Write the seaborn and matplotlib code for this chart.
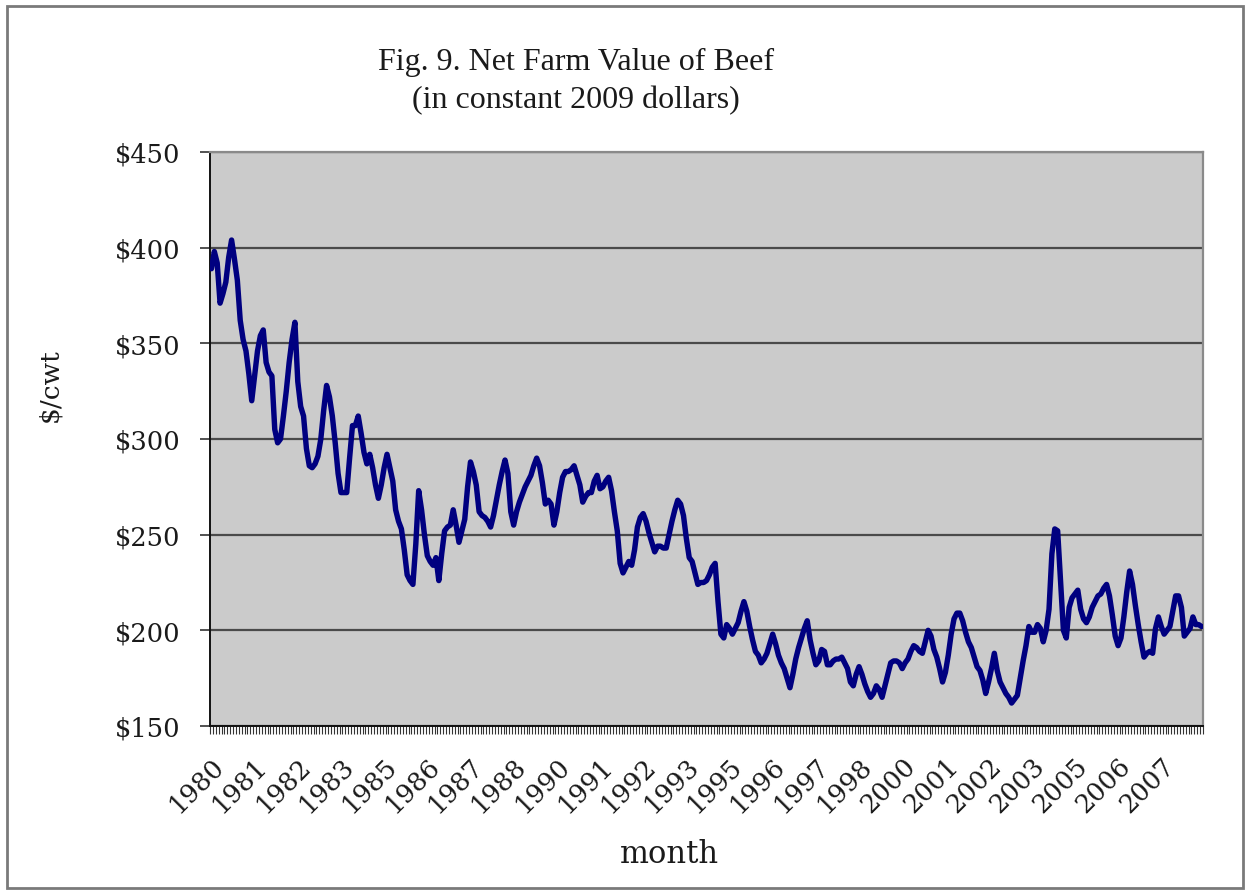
import numpy as np
import pandas as pd
import matplotlib
matplotlib.use("Agg")
import matplotlib.pyplot as plt
import seaborn as sns
from matplotlib.ticker import FixedLocator, FuncFormatter
from matplotlib.patches import Rectangle

# Monthly net farm value of beef, $/cwt in constant 2009 dollars, Jan 1980 onward
beef_value = [
    389, 398, 392, 371, 376, 382, 395, 404, 394, 383, 362, 352,   # 1980
    346, 334, 320, 333, 346, 354, 357, 340, 335, 333, 305, 298,   # 1981
    300, 312, 325, 340, 352, 361, 330, 317, 312, 295, 286, 285,   # 1982
    287, 291, 300, 315, 328, 322, 312, 298, 282, 272, 272, 272,   # 1983
    290, 307, 307, 312, 303, 293, 287, 292, 285, 276, 269, 276,   # 1984
    285, 292, 285, 278, 263, 257, 253, 242, 229, 226, 224, 245,   # 1985
    273, 263, 250, 239, 236, 234, 238, 226, 240, 252, 254, 255,   # 1986
    263, 255, 246, 252, 258, 275, 288, 283, 276, 262, 260, 259,   # 1987
    257, 254, 260, 268, 276, 283, 289, 282, 262, 255, 262, 267,   # 1988
    271, 275, 278, 281, 286, 290, 286, 277, 266, 268, 266, 255,   # 1989
    262, 272, 280, 283, 283, 284, 286, 281, 276, 267, 270, 272,   # 1990
    272, 278, 281, 274, 275, 278, 280, 273, 262, 252, 235, 230,   # 1991
    233, 236, 234, 242, 254, 259, 261, 257, 251, 246, 241, 244,   # 1992
    244, 243, 243, 250, 257, 263, 268, 266, 260, 248, 238, 236,   # 1993
    230, 224, 225, 225, 226, 229, 233, 235, 215, 198, 196, 203,   # 1994
    201, 198, 201, 204, 210, 215, 210, 202, 195, 189, 187, 183,   # 1995
    185, 188, 193, 198, 193, 187, 183, 180, 175, 170, 177, 185,   # 1996
    191, 196, 201, 205, 195, 188, 182, 184, 190, 189, 182, 182,   # 1997
    184, 185, 185, 186, 183, 180, 173, 171, 177, 181, 177, 172,   # 1998
    168, 165, 167, 171, 169, 165, 171, 177, 183, 184, 184, 183,   # 1999
    180, 183, 185, 189, 192, 191, 189, 188, 194, 200, 197, 190,   # 2000
    186, 180, 173, 178, 187, 198, 206, 209, 209, 205, 199, 194,   # 2001
    191, 186, 181, 179, 174, 167, 173, 180, 188, 179, 173, 170,   # 2002
    167, 165, 162, 164, 166, 175, 184, 192, 202, 199, 199, 203,   # 2003
    201, 194, 200, 211, 240, 253, 252, 226, 200, 196, 212, 217,   # 2004
    219, 221, 211, 206, 204, 207, 212, 215, 218, 219, 222, 224,   # 2005
    218, 208, 197, 192, 196, 207, 220, 231, 224, 213, 203, 194,   # 2006
    186, 188, 189, 188, 201, 207, 202, 198, 200, 202, 210, 218,   # 2007
    218, 212, 197, 199, 201, 207, 203, 203, 202,                  # 2008
]

# Category-axis labels, one every 15 months starting Jan 1980
year_labels = ["1980", "1981", "1982", "1983", "1985", "1986", "1987", "1988",
               "1990", "1991", "1992", "1993", "1995", "1996", "1997", "1998",
               "2000", "2001", "2002", "2003", "2005", "2006", "2007"]
label_step = 15
y_ticks = [150, 200, 250, 300, 350, 400, 450]

n = len(beef_value)
df = pd.DataFrame({"month": np.arange(n), "value": beef_value})

sns.set_theme(style="ticks")
plt.rcParams["font.family"] = ["DejaVu Serif"]

W, H = 1250, 895
fig = plt.figure(figsize=(W / 100, H / 100), dpi=100)
fig.patch.set_facecolor("white")
ax = fig.add_axes([210 / W, 1 - 727 / H, 993 / W, 574 / H])
ax.set_facecolor("#cbcbcb")

sns.lineplot(data=df, x="month", y="value", ax=ax, color="#000080",
             linewidth=3.9, zorder=3)

ax.set_xlim(-0.5, n - 0.5)
ax.set_ylim(y_ticks[0], y_ticks[-1])

# y axis: dollar ticks with dark horizontal gridlines
ax.yaxis.set_major_locator(FixedLocator(y_ticks))
ax.yaxis.set_major_formatter(FuncFormatter(lambda v, p: f"${v:.0f}"))
ax.grid(axis="y", color="#4a4a4a", linewidth=1.6)
ax.grid(axis="x", visible=False)
ax.set_axisbelow(True)
ax.tick_params(axis="y", which="major", direction="out", length=7, width=1.2,
               color="#333333", pad=14, labelsize=18.5, labelcolor="#1a1a1a")

# x axis: a tick per month, a label every 15 months
label_pos = [i * label_step for i in range(len(year_labels))]
ax.xaxis.set_major_locator(FixedLocator(label_pos))
ax.xaxis.set_minor_locator(FixedLocator(np.arange(-0.5, n, 1.0)))
ax.set_xticklabels(year_labels, rotation=45, ha="right", va="top",
                   rotation_mode="anchor")
ax.tick_params(axis="x", which="major", length=0, pad=19, labelsize=18.5,
               labelcolor="#1a1a1a")
ax.tick_params(axis="x", which="minor", direction="out", length=6, width=0.8,
               color="#333333")

ax.set_xlabel("")
ax.set_ylabel("")

for side in ("left", "bottom"):
    ax.spines[side].set_color("#111111")
    ax.spines[side].set_linewidth(1.4)
for side in ("top", "right"):
    ax.spines[side].set_visible(True)
    ax.spines[side].set_color("#8a8a8a")
    ax.spines[side].set_linewidth(1.6)

# Titles and axis labels
fig.text(576 / W, 1 - 62 / H, "Fig. 9. Net Farm Value of Beef",
         ha="center", va="center", family="Liberation Serif", size=23,
         color="#1a1a1a")
fig.text(576 / W, 1 - 101 / H, "(in constant 2009 dollars)",
         ha="center", va="center", family="Liberation Serif", size=23,
         color="#1a1a1a")
fig.text(669 / W, 1 - 855 / H, "month", ha="center", va="center",
         size=22, color="#1a1a1a")
fig.text(50 / W, 1 - 385 / H, "$/cwt", ha="center", va="center",
         rotation=90, size=19, color="#1a1a1a")

# Outer chart frame
fig.patches.append(Rectangle((7 / W, 6 / H), (1243 - 7) / W, (888 - 6) / H,
                             transform=fig.transFigure, fill=False,
                             edgecolor="#7a7a7a", linewidth=2))

fig.savefig("out.png", dpi=100)
